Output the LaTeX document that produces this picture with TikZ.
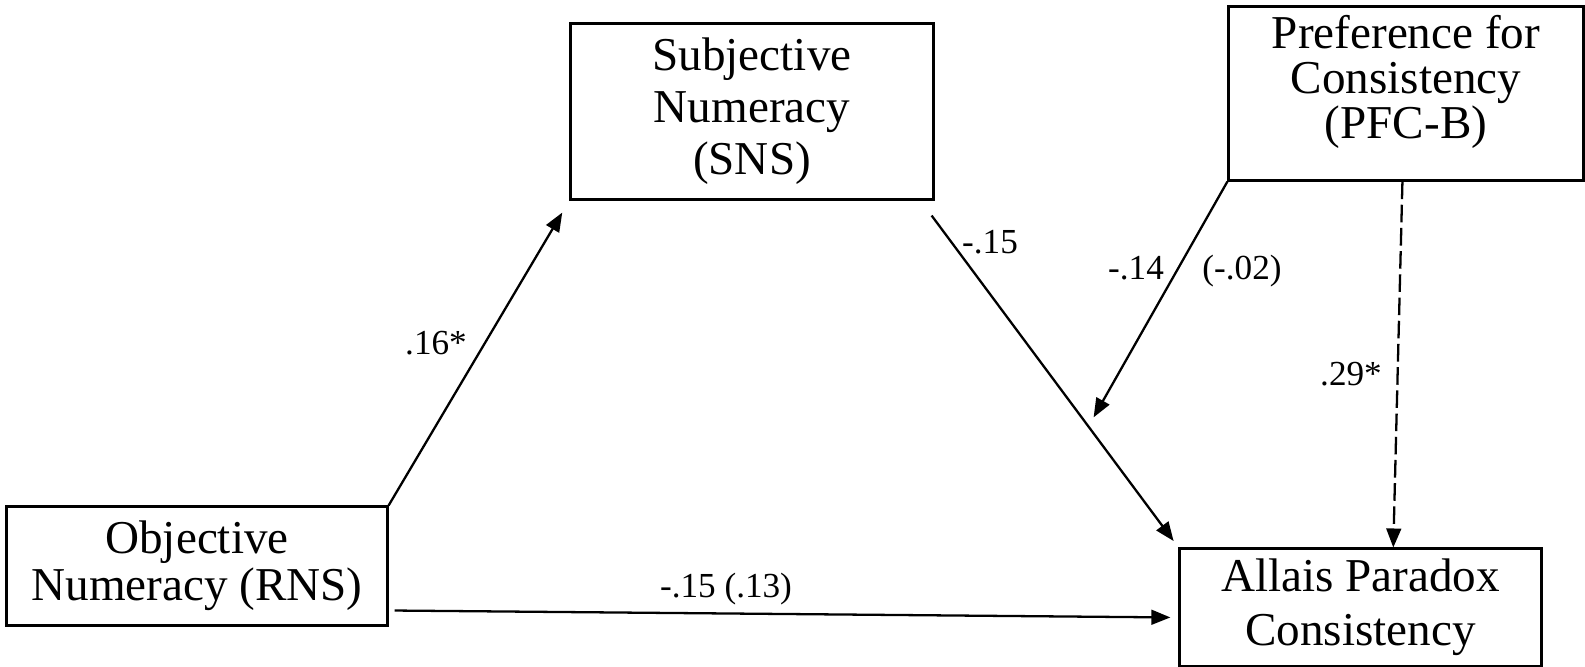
\documentclass[tikz,border=0pt]{standalone}
\usepackage{fontspec}
\setmainfont{Liberation Serif}
\usetikzlibrary{positioning,arrows.meta,calc}
\tikzset{
  box/.style={draw,line width=.85pt,align=center,inner sep=0pt},
  link/.style={-{Triangle[length=5.4pt,width=4.2pt]},line width=.65pt},
  coef/.style={font=\fontsize{10}{12}\selectfont,anchor=base,inner sep=0pt}
}

\begin{document}
\begin{tikzpicture}[x=.01cm,y=-.01cm]
\useasboundingbox (0,0) rectangle (1585,667);
% boxes
\node[box,font=\fontsize{13.4}{13.3}\selectfont,minimum width=3.80cm,minimum height=1.18cm] (rns) at (197,566){Objective\\Numeracy (RNS)};
\node[box,font=\fontsize{13.4}{14.8}\selectfont,minimum width=3.62cm,minimum height=1.75cm] (sns) at (752,111.5){Subjective\\Numeracy\\(SNS)};
\node[box,font=\fontsize{13.4}{12.8}\selectfont,minimum width=3.54cm,minimum height=1.73cm] (pfc) at (1406,93.5){Preference for\\Consistency\\(PFC-B)\rule[-.34cm]{0pt}{0pt}};
\node[box,font=\fontsize{13.4}{15.3}\selectfont,minimum width=3.61cm,minimum height=1.17cm] (apc) at (1360.5,607.5){Allais Paradox\\Consistency};
\coordinate (hit) at ($(sns.south east)!.64!(apc.north west)$);
% paths
\draw[link,shorten >=.14cm] (rns.north east)--(sns.south west);
\draw[link,shorten >=.08cm] ($(sns.south east)+(-3,15)$)--(apc.north west);
\draw[link,shorten >=.06cm] (pfc.south west)--(hit);
\draw[link,dashed,dash pattern=on 5pt off 1.6pt] ($(pfc.south west)!.49!(pfc.south east)$)--($(apc.north west)!.59!(apc.north east)$);
\draw[link,shorten >=.08cm] ($(rns.south east)+(6,-16)$)--($(apc.west)+(0,10)$);
% coefficients
\node[coef] (c16) at (436,354){.16*};
\node[coef] (c15) at (990,254){-.15};
\node[coef] (c14) at (1136,279){-.14};
\node[coef] (c02) at (1242,279){(-.02)};
\node[coef] (c29) at (1351,385){.29*};
\node[coef] (c13) at (726,597){-.15 (.13)};
\end{tikzpicture}
\end{document}
